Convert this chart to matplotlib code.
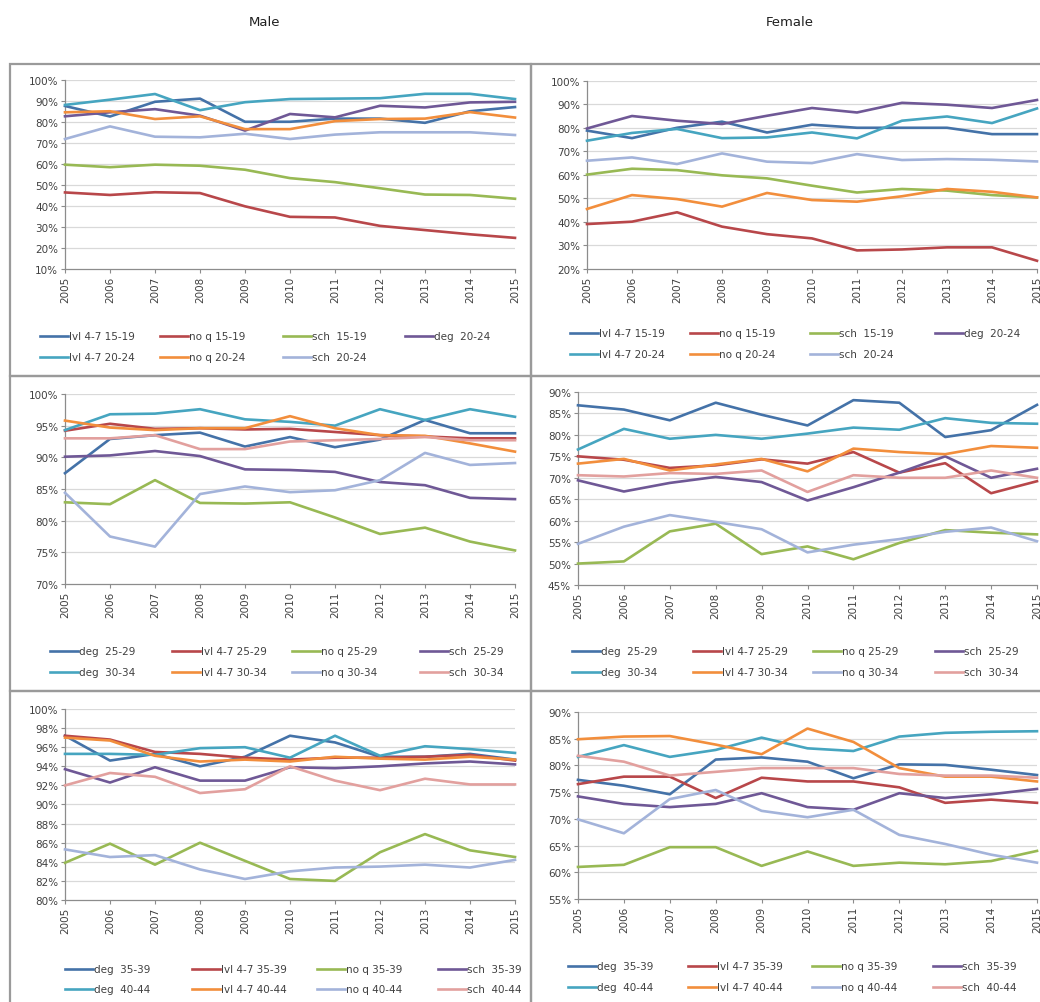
import matplotlib
matplotlib.use("Agg")
import matplotlib.pyplot as plt
from matplotlib.lines import Line2D
from matplotlib.patches import Rectangle
from matplotlib.ticker import FuncFormatter

W, H = 1040, 1003

years = list(range(2005, 2016))

# ---- Male, ages 15-24 ----
m_lvl_15_19 = [87.5, 82.5, 89.5, 91.0, 80.0, 80.0, 81.5, 81.5, 79.5, 85.0, 87.0]
m_noq_15_19 = [46.4, 45.2, 46.5, 46.1, 39.8, 34.8, 34.5, 30.5, 28.5, 26.5, 24.8]
m_sch_15_19 = [59.6, 58.4, 59.6, 59.1, 57.2, 53.2, 51.3, 48.4, 45.4, 45.2, 43.4]
m_deg_20_24 = [82.6, 84.5, 86.0, 82.9, 75.8, 83.7, 82.1, 87.6, 86.8, 89.2, 89.5]
m_lvl_20_24 = [88.0, 90.5, 93.2, 85.5, 89.3, 90.8, 91.0, 91.2, 93.3, 93.3, 90.8]
m_noq_20_24 = [84.5, 85.0, 81.3, 82.6, 76.5, 76.5, 80.3, 81.3, 81.5, 84.6, 82.0]
m_sch_20_24 = [71.8, 77.8, 72.9, 72.6, 74.3, 71.8, 73.9, 75.0, 75.0, 75.0, 73.7]

# ---- Female, ages 15-24 ----
f_lvl_15_19 = [78.8, 75.6, 80.0, 82.6, 78.0, 81.3, 80.0, 80.0, 80.0, 77.3, 77.3]
f_noq_15_19 = [39.1, 40.1, 44.1, 38.0, 34.8, 33.0, 27.9, 28.3, 29.2, 29.2, 23.5]
f_sch_15_19 = [60.1, 62.6, 62.0, 59.8, 58.5, 55.4, 52.5, 54.0, 53.3, 51.4, 50.4]
f_deg_20_24 = [79.7, 85.0, 83.0, 81.6, 85.1, 88.4, 86.5, 90.6, 89.8, 88.4, 91.8]
f_lvl_20_24 = [74.5, 77.8, 79.5, 75.6, 75.9, 78.0, 75.5, 83.0, 84.8, 82.0, 88.2]
f_noq_20_24 = [45.5, 51.4, 49.7, 46.5, 52.3, 49.3, 48.6, 50.9, 54.0, 52.8, 50.4]
f_sch_20_24 = [66.0, 67.4, 64.6, 69.1, 65.6, 65.0, 68.8, 66.3, 66.7, 66.4, 65.7]

# ---- Male, ages 25-34 ----
m_deg_25_29 = [87.5, 92.9, 93.5, 93.9, 91.7, 93.2, 91.6, 92.8, 95.9, 93.8, 93.8]
m_lvl_25_29 = [94.2, 95.3, 94.5, 94.6, 94.4, 94.5, 94.0, 93.5, 93.3, 93.0, 93.0]
m_noq_25_29 = [82.9, 82.6, 86.4, 82.8, 82.7, 82.9, 80.5, 77.9, 78.9, 76.7, 75.3]
m_sch_25_29 = [90.1, 90.3, 91.0, 90.2, 88.1, 88.0, 87.7, 86.1, 85.6, 83.6, 83.4]
m_deg_30_34 = [94.3, 96.8, 96.9, 97.6, 96.0, 95.6, 95.0, 97.6, 95.9, 97.6, 96.4]
m_lvl_30_34 = [95.8, 94.7, 94.3, 94.6, 94.6, 96.5, 94.6, 93.5, 93.4, 92.2, 90.9]
m_noq_30_34 = [84.4, 77.5, 75.9, 84.2, 85.4, 84.5, 84.8, 86.4, 90.7, 88.8, 89.1]
m_sch_30_34 = [93.0, 93.0, 93.5, 91.3, 91.3, 92.5, 92.7, 92.9, 93.2, 92.7, 92.7]

# ---- Female, ages 25-34 ----
f_deg_25_29 = [86.9, 85.9, 83.4, 87.5, 84.7, 82.2, 88.1, 87.5, 79.5, 81.1, 87.0]
f_lvl_25_29 = [75.0, 74.2, 72.3, 72.9, 74.3, 73.3, 76.0, 71.2, 73.4, 66.4, 69.2]
f_noq_25_29 = [50.0, 50.5, 57.5, 59.3, 52.2, 54.0, 51.0, 54.8, 57.8, 57.2, 56.8]
f_sch_25_29 = [69.4, 66.8, 68.8, 70.2, 69.0, 64.7, 67.8, 71.2, 75.0, 70.0, 72.1]
f_deg_30_34 = [76.6, 81.4, 79.1, 80.0, 79.1, 80.3, 81.7, 81.2, 83.9, 82.8, 82.6]
f_lvl_30_34 = [73.3, 74.4, 71.7, 73.1, 74.4, 71.5, 76.8, 76.0, 75.5, 77.4, 77.0]
f_noq_30_34 = [54.6, 58.6, 61.3, 59.7, 58.0, 52.6, 54.4, 55.7, 57.4, 58.4, 55.2]
f_sch_30_34 = [70.6, 70.3, 71.1, 70.9, 71.7, 66.7, 70.6, 70.0, 70.0, 71.7, 70.0]

# ---- Male, ages 35-44 ----
m_deg_35_39 = [97.2, 94.6, 95.3, 94.0, 95.0, 97.2, 96.5, 95.0, 95.0, 95.3, 94.7]
m_lvl_35_39 = [97.2, 96.8, 95.5, 95.3, 94.9, 94.7, 94.9, 94.9, 95.0, 95.2, 94.6]
m_noq_35_39 = [83.9, 85.9, 83.7, 86.0, 84.1, 82.2, 82.0, 85.0, 86.9, 85.2, 84.5]
m_sch_35_39 = [93.7, 92.3, 93.9, 92.5, 92.5, 93.9, 93.8, 94.0, 94.3, 94.5, 94.2]
m_deg_40_44 = [95.3, 95.3, 95.2, 95.9, 96.0, 94.9, 97.2, 95.1, 96.1, 95.8, 95.4]
m_lvl_40_44 = [97.0, 96.7, 95.1, 94.5, 94.7, 94.5, 95.0, 94.8, 94.7, 95.0, 94.7]
m_noq_40_44 = [85.3, 84.5, 84.7, 83.2, 82.2, 83.0, 83.4, 83.5, 83.7, 83.4, 84.2]
m_sch_40_44 = [92.0, 93.3, 92.9, 91.2, 91.6, 94.0, 92.5, 91.5, 92.7, 92.1, 92.1]

# ---- Female, ages 35-44 ----
f_deg_35_39 = [77.3, 76.2, 74.6, 81.1, 81.5, 80.7, 77.6, 80.2, 80.1, 79.2, 78.2]
f_lvl_35_39 = [76.5, 77.9, 77.9, 73.9, 77.7, 77.0, 77.0, 75.9, 73.0, 73.6, 73.0]
f_noq_35_39 = [61.0, 61.4, 64.7, 64.7, 61.2, 63.9, 61.2, 61.8, 61.5, 62.1, 64.0]
f_sch_35_39 = [74.2, 72.8, 72.2, 72.8, 74.8, 72.2, 71.7, 74.8, 73.9, 74.6, 75.6]
f_deg_40_44 = [81.6, 83.8, 81.6, 82.9, 85.2, 83.2, 82.7, 85.4, 86.1, 86.3, 86.4]
f_lvl_40_44 = [84.9, 85.4, 85.5, 83.9, 82.1, 86.9, 84.4, 79.5, 77.9, 77.9, 77.0]
f_noq_40_44 = [69.9, 67.3, 73.7, 75.4, 71.5, 70.3, 71.7, 67.0, 65.3, 63.3, 61.8]
f_sch_40_44 = [81.8, 80.7, 78.1, 78.8, 79.5, 79.5, 79.5, 78.4, 78.1, 78.1, 77.7]

labels_top = ["lvl 4-7 15-19", "no q 15-19", "sch  15-19", "deg  20-24",
              "lvl 4-7 20-24", "no q 20-24", "sch  20-24"]
labels_mid = ["deg  25-29", "lvl 4-7 25-29", "no q 25-29", "sch  25-29",
              "deg  30-34", "lvl 4-7 30-34", "no q 30-34", "sch  30-34"]
labels_bot = ["deg  35-39", "lvl 4-7 35-39", "no q 35-39", "sch  35-39",
              "deg  40-44", "lvl 4-7 40-44", "no q 40-44", "sch  40-44"]

palette = ["#4472A8", "#B8474A", "#98B954", "#6F5896",
           "#46A5C0", "#F28E3C", "#A3B3DA", "#E2A09E"]

TXT = "#404040"
FS = 7.5

panels = [
    # series, labels, (x0, x1, ytop, ybot) in pixels, ylim, ystep, legend cols x, legend rows y
    dict(series=[m_lvl_15_19, m_noq_15_19, m_sch_15_19, m_deg_20_24,
                 m_lvl_20_24, m_noq_20_24, m_sch_20_24],
         labels=labels_top, box=(65, 515, 80.7, 270), ylim=(10, 100), step=10,
         lcols=(40, 160, 283, 405), lrows=(337, 358)),
    dict(series=[f_lvl_15_19, f_noq_15_19, f_sch_15_19, f_deg_20_24,
                 f_lvl_20_24, f_noq_20_24, f_sch_20_24],
         labels=labels_top, box=(587, 1037, 81.7, 270), ylim=(20, 100), step=10,
         lcols=(570, 690, 810, 935), lrows=(334, 355)),
    dict(series=[m_deg_25_29, m_lvl_25_29, m_noq_25_29, m_sch_25_29,
                 m_deg_30_34, m_lvl_30_34, m_noq_30_34, m_sch_30_34],
         labels=labels_mid, box=(65, 515, 395, 585), ylim=(70, 100), step=5,
         lcols=(50, 172, 292, 420), lrows=(652, 673)),
    dict(series=[f_deg_25_29, f_lvl_25_29, f_noq_25_29, f_sch_25_29,
                 f_deg_30_34, f_lvl_30_34, f_noq_30_34, f_sch_30_34],
         labels=labels_mid, box=(578, 1037, 393, 586), ylim=(45, 90), step=5,
         lcols=(572, 693, 813, 935), lrows=(652, 673)),
    dict(series=[m_deg_35_39, m_lvl_35_39, m_noq_35_39, m_sch_35_39,
                 m_deg_40_44, m_lvl_40_44, m_noq_40_44, m_sch_40_44],
         labels=labels_bot, box=(65, 515, 710, 901), ylim=(80, 100), step=2,
         lcols=(65, 192, 317, 438), lrows=(970, 990)),
    dict(series=[f_deg_35_39, f_lvl_35_39, f_noq_35_39, f_sch_35_39,
                 f_deg_40_44, f_lvl_40_44, f_noq_40_44, f_sch_40_44],
         labels=labels_bot, box=(578, 1037, 713, 900), ylim=(55, 90), step=5,
         lcols=(568, 688, 812, 933), lrows=(967, 988)),
]

fig = plt.figure(figsize=(W / 100, H / 100), dpi=100)
fig.patch.set_facecolor("white")

# panel frames
frame_kw = dict(transform=fig.transFigure, fill=False, edgecolor="#9A9A9A",
                linewidth=1.6, zorder=0)
for (x0, x1) in [(10, 531), (531, 1046)]:
    for (y0, y1) in [(65, 377), (377, 692), (692, 1010)]:
        fig.add_artist(Rectangle((x0 / W, 1 - y1 / H), (x1 - x0) / W, (y1 - y0) / H,
                                 **frame_kw))

fig.text(265 / W, 1 - 22 / H, "Male", ha="center", va="center", fontsize=9.5, color="#202020")
fig.text(790 / W, 1 - 22 / H, "Female", ha="center", va="center", fontsize=9.5, color="#202020")

pct = FuncFormatter(lambda v, _: f"{v:.0f}%")

for p in panels:
    x0, x1, yt, yb = p["box"]
    ax = fig.add_axes([x0 / W, 1 - yb / H, (x1 - x0) / W, (yb - yt) / H])
    lo, hi = p["ylim"]
    ax.set_xlim(years[0], years[-1])
    ax.set_ylim(lo, hi)
    ticks = list(range(lo, hi + 1, p["step"]))
    ax.set_yticks(ticks)
    ax.yaxis.set_major_formatter(pct)
    ax.set_xticks(years)
    ax.set_xticklabels([str(y) for y in years], rotation=90)
    for t in ticks[1:]:
        ax.axhline(t, color="#D9D9D9", linewidth=0.9, zorder=1)
    for s in ["top", "right"]:
        ax.spines[s].set_visible(False)
    for s in ["left", "bottom"]:
        ax.spines[s].set_color("#8C8C8C")
        ax.spines[s].set_linewidth(0.9)
    ax.tick_params(axis="both", colors="#8C8C8C", labelcolor=TXT, labelsize=FS,
                   length=3, width=0.8, pad=2)
    ax.set_facecolor("none")
    for i, vals in enumerate(p["series"]):
        ax.plot(years, vals, color=palette[i], linewidth=1.9, zorder=3 + i,
                solid_joinstyle="round", clip_on=False)

    # legend in two rows, four columns
    for i, lab in enumerate(p["labels"]):
        r, c = divmod(i, 4)
        lx = p["lcols"][c]
        ly = 1 - p["lrows"][r] / H
        fig.add_artist(Line2D([lx / W, (lx + 28) / W], [ly, ly], color=palette[i],
                              linewidth=1.9, transform=fig.transFigure))
        fig.text((lx + 29) / W, ly, lab, ha="left", va="center", fontsize=FS, color=TXT)

fig.savefig("out.png", dpi=100, facecolor="white")
